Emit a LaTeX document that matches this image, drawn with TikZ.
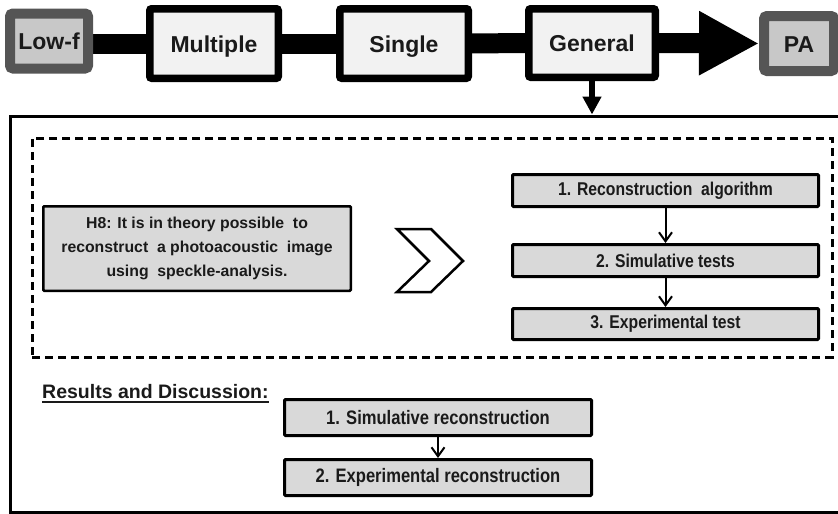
\documentclass[tikz,border=0pt]{standalone}
\usepackage{fontspec}
\setmainfont{Liberation Sans}
\newfontfamily\narrowsans{Liberation Sans}[FakeStretch=0.85]
\usetikzlibrary{arrows.meta,backgrounds}

\definecolor{boxgray}{HTML}{F2F2F2}
\definecolor{endgray}{HTML}{C8C8C8}
\definecolor{edgegray}{HTML}{555555}
\definecolor{stepgray}{HTML}{D9D9D9}
\definecolor{ink}{HTML}{1A1A1A}

% text with a heavy underline
\newcommand\underlined[1]{\setbox0=\hbox{#1}\rlap{\vrule height -2.5pt depth 4.5pt width \wd0}\box0}

\begin{document}
\begin{tikzpicture}[x=1pt,y=-1pt,
  topbox/.style={draw=black, line width=7.5pt, fill=boxgray, rounded corners=2pt,
    minimum width=128.5pt, minimum height=69.5pt, inner sep=0pt,
    text height=17pt, text depth=0pt,
    font=\fontsize{23}{27}\selectfont\bfseries, text=ink},
  endbox/.style={draw=edgegray, line width=10pt, fill=endgray, rounded corners=3pt,
    minimum height=55pt, inner sep=0pt, text height=17pt, text depth=0pt,
    font=\fontsize{23}{27}\selectfont\bfseries, text=ink},
  hypbox/.style={draw=black, line width=2.5pt, fill=stepgray, rounded corners=1pt,
    minimum width=307.5pt, minimum height=84.5pt, inner sep=0pt, align=center,
    font=\fontsize{15.8}{24}\selectfont\bfseries, text=ink},
  stepbox/.style={draw=black, line width=3pt, fill=stepgray, rounded corners=1pt,
    minimum width=306pt, minimum height=32pt, inner sep=0pt,
    font=\narrowsans\fontsize{18.5}{22}\selectfont\bfseries, text=ink},
  resbox/.style={draw=black, line width=3pt, fill=stepgray, rounded corners=1pt,
    minimum width=307pt, minimum height=36pt, inner sep=0pt,
    font=\narrowsans\fontsize{19.5}{23}\selectfont\bfseries, text=ink},
  bar/.style={line width=20pt, draw=black},
  thinarrow/.style={line width=2pt, draw=black, -{Straight Barb[length=9pt 0 0, width=13pt 0 0]}}
]
\useasboundingbox (0,0) rectangle (838,514);
\clip (0,0) rectangle (838,514);

% outer frame and the dashed hypothesis area
\node[draw=black, line width=3pt, minimum width=840pt, minimum height=396pt, inner sep=0pt]
  (frame) at (430,314) {};
\node[draw=black, line width=3pt, dash pattern=on 8pt off 5pt, minimum width=800pt,
  minimum height=219pt, inner sep=0pt] (hyparea) at (432,247.5) {};

% top chain
\node[endbox, minimum width=78pt] (low) at (49,41) {Low-f};
\node[topbox] (mult) at (214,43.5) {Multiple};
\node[topbox] (single) at (404,43.5) {Single};
\node[topbox, minimum width=126.5pt, minimum height=68.5pt] (gen) at (592,43) {General};
\node[endbox, minimum width=70pt] (pa) at (799,43.5) {PA};

\begin{scope}[on background layer]
  \draw[bar] (low |- mult) -- (mult);
  \draw[bar] (mult) -- (single);
  \draw[bar] (single) -- (gen);
\end{scope}
\draw[bar, -{Triangle[length=60pt 0 0, width=60pt 0 0]}] (gen.east) -- (pa.west);
\draw[line width=6pt, -{Triangle[length=18pt 0 0, width=18pt 0 0]}]
  (gen.south) -- (gen.south |- frame.north);

% hypothesis
\node[hypbox] (hyp) at (197,248.5)
  {H8: It is in theory possible\ \ to\\reconstruct\ \ a photoacoustic\ \ image\\using\ \ speckle-analysis.};

% chevron
\draw[line width=2.5pt, line join=miter, fill=white]
  (397,229) -- (431,229) -- (463,261) -- (431,292) -- (397,292) -- (429,261) -- cycle;

% steps
\node[stepbox] (s1) at (665.5,190.5) {1. Reconstruction\ \ algorithm};
\node[stepbox] (s2) at (665.5,260.5) {2. Simulative tests};
\node[stepbox, minimum height=31pt] (s3) at (665.5,324) {3. Experimental test};
\draw[thinarrow] (s1.south) -- (s2.north);
\draw[thinarrow] (s2.south) -- (s3.north);

% results
\node[anchor=base west, inner sep=0pt, font=\fontsize{19.5}{23}\selectfont\bfseries, text=ink]
  (rd) at (42,398) {\underlined{Results and Discussion:}};
\node[resbox] (r1) at (438,417.5) {1. Simulative reconstruction};
\node[resbox] (r2) at (438,477.5) {2. Experimental reconstruction};
\draw[thinarrow] (r1.south) -- (r2.north);
\end{tikzpicture}
\end{document}
